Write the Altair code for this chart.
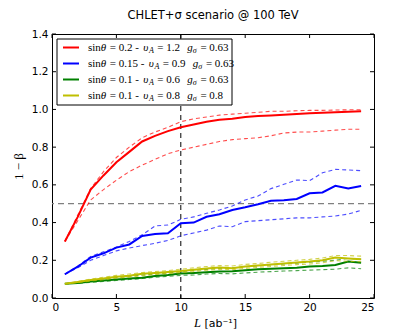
import altair as alt
import pandas as pd

# ---------------- data ----------------
L_values = list(range(1, 25))

red_solid = [0.30, 0.43, 0.575, 0.65, 0.72, 0.775, 0.83, 0.86, 0.885, 0.905, 0.92, 0.935,
             0.945, 0.95, 0.96, 0.965, 0.968, 0.972, 0.976, 0.98, 0.983, 0.985, 0.988, 0.99]
red_upper = [0.30, 0.44, 0.58, 0.67, 0.745, 0.80, 0.85, 0.88, 0.905, 0.935, 0.95, 0.96,
             0.97, 0.975, 0.98, 0.985, 0.99, 0.99, 0.993, 0.995, 0.995, 0.997, 0.998, 0.998]
red_lower = [0.30, 0.41, 0.52, 0.575, 0.625, 0.67, 0.705, 0.735, 0.765, 0.785, 0.80, 0.815,
             0.83, 0.84, 0.845, 0.85, 0.86, 0.875, 0.88, 0.88, 0.885, 0.89, 0.895, 0.895]

blue_solid = [0.126, 0.166, 0.214, 0.237, 0.267, 0.284, 0.329, 0.339, 0.343, 0.396, 0.40, 0.431,
              0.444, 0.467, 0.481, 0.497, 0.516, 0.518, 0.525, 0.555, 0.560, 0.595, 0.581, 0.594]
blue_upper = [0.126, 0.17, 0.22, 0.245, 0.27, 0.30, 0.335, 0.382, 0.387, 0.417, 0.43, 0.449,
              0.467, 0.488, 0.52, 0.541, 0.58, 0.603, 0.626, 0.622, 0.664, 0.682, 0.679, 0.675]
blue_lower = [0.126, 0.16, 0.20, 0.225, 0.25, 0.265, 0.278, 0.29, 0.305, 0.33, 0.345, 0.36,
              0.382, 0.378, 0.405, 0.41, 0.415, 0.42, 0.425, 0.425, 0.43, 0.435, 0.445, 0.465]

green_solid = [0.075, 0.080, 0.087, 0.093, 0.098, 0.103, 0.108, 0.117, 0.122, 0.130, 0.133, 0.137,
               0.140, 0.142, 0.147, 0.152, 0.155, 0.158, 0.160, 0.167, 0.170, 0.175, 0.193, 0.187]
green_upper = [0.075, 0.085, 0.093, 0.100, 0.108, 0.115, 0.122, 0.127, 0.133, 0.140, 0.147, 0.152,
               0.157, 0.160, 0.165, 0.170, 0.175, 0.180, 0.185, 0.190, 0.195, 0.200, 0.210, 0.205]
green_lower = [0.075, 0.078, 0.083, 0.088, 0.093, 0.098, 0.103, 0.110, 0.115, 0.120, 0.122, 0.127,
               0.130, 0.128, 0.133, 0.137, 0.140, 0.143, 0.145, 0.148, 0.150, 0.153, 0.160, 0.155]

yellow_solid = [0.075, 0.085, 0.095, 0.103, 0.113, 0.118, 0.128, 0.133, 0.138, 0.143, 0.150, 0.157,
                0.162, 0.158, 0.167, 0.172, 0.178, 0.183, 0.188, 0.193, 0.200, 0.215, 0.210, 0.205]
yellow_upper = [0.075, 0.088, 0.100, 0.110, 0.120, 0.127, 0.135, 0.140, 0.145, 0.153, 0.160, 0.167,
                0.172, 0.170, 0.178, 0.183, 0.190, 0.195, 0.200, 0.205, 0.212, 0.225, 0.225, 0.222]
yellow_lower = [0.075, 0.082, 0.090, 0.097, 0.105, 0.110, 0.118, 0.125, 0.130, 0.135, 0.140, 0.147,
                0.152, 0.150, 0.157, 0.162, 0.167, 0.172, 0.177, 0.180, 0.187, 0.198, 0.195, 0.192]

legend_sin = ["0.2", "0.15", "0.1", "0.1"]
legend_vA = ["1.2", "0.9", "0.6", "0.8"]
legend_g = ["0.63", "0.63", "0.63", "0.8"]

x_ticks = [0, 5, 10, 15, 20, 25]
y_ticks = [0.0, 0.2, 0.4, 0.6, 0.8, 1.0, 1.2, 1.4]
h_ref = [0.5]
v_ref = [10]

title_text = "CHLET+σ scenario @ 100 TeV"
x_title_var = "L"
x_title_unit = "[ab⁻¹]"
y_title = "1 − β"

# ---------------- styles ----------------
W, H = 322, 264
colors = ["#ff0000", "#0000ff", "#008000", "#bfbf00"]
series = [
    (red_solid, red_upper, red_lower),
    (blue_solid, blue_upper, blue_lower),
    (green_solid, green_upper, green_lower),
    (yellow_solid, yellow_upper, yellow_lower),
]

xs = alt.Scale(domain=[0, 25], nice=False, zero=False)
ys = alt.Scale(domain=[0, 1.4], nice=False, zero=False)
x_axis = alt.Axis(values=x_ticks, title=None, format="d", labelFontSize=10.5, labelPadding=4)
y_axis = alt.Axis(values=y_ticks, title=y_title, format=".1f", labelFontSize=10.5,
                  titleFont="Liberation Serif", titleFontSize=13, labelPadding=4, titlePadding=6)

layers = []
one = pd.DataFrame({"_": [0]})

# reference lines (behind curves)
layers.append(alt.Chart(pd.DataFrame({"v": h_ref})).mark_rule(
    color="#808080", strokeDash=[6, 4], strokeWidth=1.3).encode(
    y=alt.Y("v:Q", scale=ys, axis=y_axis)))
layers.append(alt.Chart(pd.DataFrame({"v": v_ref})).mark_rule(
    color="black", strokeDash=[5, 4], strokeWidth=1).encode(
    x=alt.X("v:Q", scale=xs, axis=x_axis)))

for (solid, upper, lower), c in zip(series, colors):
    for band in (upper, lower):
        df = pd.DataFrame({"x": L_values, "y": band})
        layers.append(alt.Chart(df).mark_line(color=c, strokeWidth=1.1, strokeDash=[4, 3],
                                              opacity=0.7).encode(
            x=alt.X("x:Q", scale=xs, axis=x_axis), y=alt.Y("y:Q", scale=ys, axis=y_axis)))
    df = pd.DataFrame({"x": L_values, "y": solid})
    layers.append(alt.Chart(df).mark_line(color=c, strokeWidth=2).encode(
        x=alt.X("x:Q", scale=xs, axis=x_axis), y=alt.Y("y:Q", scale=ys, axis=y_axis)))

# inward ticks on all four sides
tx = pd.DataFrame({"t": x_ticks})
ty = pd.DataFrame({"t": y_ticks})
layers.append(alt.Chart(tx).mark_rule(color="black").encode(
    x=alt.X("t:Q", scale=xs, axis=x_axis), y=alt.value(H), y2=alt.value(H - 4)))
layers.append(alt.Chart(tx).mark_rule(color="black").encode(
    x=alt.X("t:Q", scale=xs, axis=x_axis), y=alt.value(0), y2=alt.value(4)))
layers.append(alt.Chart(ty).mark_rule(color="black").encode(
    y=alt.Y("t:Q", scale=ys, axis=y_axis), x=alt.value(0), x2=alt.value(4)))
layers.append(alt.Chart(ty).mark_rule(color="black").encode(
    y=alt.Y("t:Q", scale=ys, axis=y_axis), x=alt.value(W), x2=alt.value(W - 4)))

# legend box
lx0, ly0, lx1, ly1 = 5, 5, 180, 71
layers.append(alt.Chart(one).mark_rect(fill="white", stroke="black", strokeWidth=1).encode(
    x=alt.value(lx0), x2=alt.value(lx1), y=alt.value(ly0), y2=alt.value(ly1)))

FS, FSS = 11, 8
SP = 300
widths_r = {" ": SP, "=": 564, ".": 250, "-": 333, "s": 389, "i": 278, "n": 500}
for d in "0123456789":
    widths_r[d] = 500
widths_i = {"θ": 520, "υ": 520, "g": 500, "A": 611, "σ": 560}


def tw(s, table, fs):
    return sum(table.get(ch, 500) for ch in s) * fs / 1000.0


serif = "Liberation Serif"
for i, c in enumerate(colors):
    ry = 13.5 + 16 * i
    layers.append(alt.Chart(one).mark_rule(color=c, strokeWidth=2).encode(
        x=alt.value(11), x2=alt.value(27), y=alt.value(ry)))
    segs = [
        ("sin", "normal", FS, 0),
        ("θ", "italic", FS, 0),
        (f" = {legend_sin[i]} - ", "normal", FS, 0),
        ("υ", "italic", FS, 0),
        ("A", "italic", FSS, 3),
        (f" = {legend_vA[i]}  ", "normal", FS, 0),
        ("g", "italic", FS, 0),
        ("σ", "italic", FSS, 3),
        (f" = {legend_g[i]}", "normal", FS, 0),
    ]
    px = 36.0
    for s, st, fs, dy in segs:
        table = widths_i if st == "italic" else widths_r
        lead = len(s) - len(s.lstrip(" "))
        px += lead * SP * fs / 1000.0
        body = s.strip(" ")
        layers.append(alt.Chart(one).mark_text(
            text=body, align="left", baseline="middle", font=serif, fontSize=fs,
            fontStyle=st, color="black").encode(x=alt.value(px), y=alt.value(ry + dy)))
        px += tw(s.lstrip(" "), table, fs)

# x-axis title: italic L + unit
layers.append(alt.Chart(one).mark_text(
    text=x_title_var, align="left", baseline="alphabetic", font=serif, fontSize=12.5,
    fontStyle="italic", color="black").encode(x=alt.value(W / 2 - 19), y=alt.value(H + 29)))
layers.append(alt.Chart(one).mark_text(
    text=x_title_unit, align="left", baseline="alphabetic", font="DejaVu Sans", fontSize=11,
    color="black").encode(x=alt.value(W / 2 - 8.5), y=alt.value(H + 29)))

# title
layers.append(alt.Chart(one).mark_text(
    text=title_text, align="center", baseline="alphabetic", font="DejaVu Sans",
    fontSize=11.5, color="black").encode(x=alt.value(W / 2), y=alt.value(-15)))

chart = alt.layer(*layers).properties(
    width=W, height=H,
    padding={"left": 44, "top": 26, "right": 30, "bottom": 34},
    autosize=alt.AutoSizeParams(type="none"),
).configure_view(stroke="black", strokeWidth=1).configure_axis(
    domain=False, ticks=False, grid=False, labelColor="black", titleColor="black",
    labelFont="DejaVu Sans", titleFontWeight="normal"
)

chart.save("out.html", embed_options={"renderer": "svg", "actions": False})
